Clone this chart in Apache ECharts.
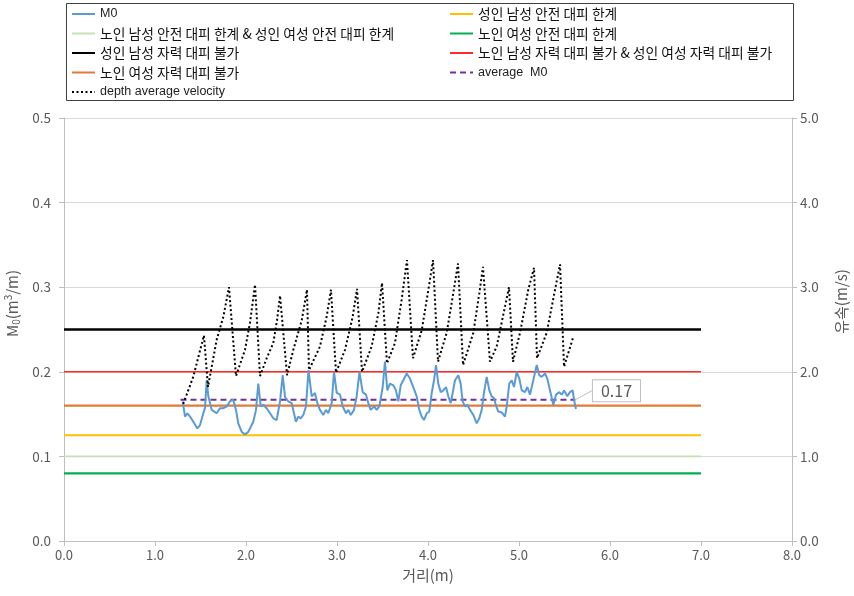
<!DOCTYPE html>
<html><head><meta charset="utf-8">
<script src="https://cdn.jsdelivr.net/npm/echarts@6/dist/echarts.min.js"></script>
<style>html,body{margin:0;padding:0;background:#fff}#c{width:854px;height:596px}</style>
</head><body><div id="c"></div>
<script>
// M0 series: distance (m) and M0 (m3/m)
const m0X = [1.304,1.330,1.355,1.385,1.421,1.465,1.495,1.531,1.549,1.568,1.586,1.623,1.678,1.714,1.751,1.788,1.824,1.860,1.890,1.915,1.953,1.989,2.025,2.080,2.110,2.135,2.162,2.190,2.227,2.264,2.300,2.337,2.374,2.403,2.429,2.465,2.502,2.527,2.549,2.575,2.601,2.630,2.659,2.687,2.722,2.758,2.784,2.813,2.849,2.879,2.904,2.942,2.967,2.997,3.033,3.063,3.099,3.124,3.151,3.187,3.216,3.247,3.282,3.319,3.344,3.370,3.407,3.436,3.465,3.502,3.527,3.553,3.582,3.619,3.648,3.674,3.700,3.729,3.766,3.802,3.838,3.876,3.904,3.931,3.956,3.986,4.014,4.041,4.066,4.088,4.113,4.140,4.168,4.198,4.223,4.249,4.271,4.297,4.333,4.359,4.381,4.407,4.432,4.462,4.498,4.535,4.564,4.590,4.615,4.645,4.674,4.700,4.725,4.747,4.773,4.810,4.846,4.865,4.893,4.920,4.945,4.975,5.003,5.030,5.066,5.091,5.121,5.157,5.195,5.223,5.249,5.286,5.311,5.341,5.377,5.407,5.443,5.469,5.495,5.531,5.560,5.590,5.604,5.626];
const m0Y = [0.165,0.147,0.151,0.147,0.141,0.133,0.137,0.151,0.157,0.190,0.171,0.155,0.151,0.157,0.157,0.159,0.165,0.167,0.155,0.139,0.129,0.126,0.129,0.141,0.155,0.186,0.159,0.161,0.157,0.151,0.145,0.143,0.165,0.196,0.170,0.165,0.163,0.151,0.141,0.147,0.145,0.149,0.159,0.202,0.171,0.175,0.163,0.155,0.149,0.155,0.151,0.163,0.200,0.175,0.173,0.159,0.151,0.155,0.149,0.155,0.171,0.200,0.176,0.173,0.163,0.155,0.159,0.155,0.159,0.182,0.212,0.178,0.186,0.184,0.178,0.165,0.184,0.190,0.198,0.192,0.182,0.171,0.155,0.147,0.143,0.151,0.153,0.175,0.190,0.208,0.186,0.176,0.178,0.182,0.171,0.163,0.175,0.190,0.196,0.186,0.165,0.159,0.161,0.155,0.149,0.139,0.145,0.155,0.175,0.194,0.178,0.171,0.169,0.160,0.153,0.152,0.147,0.159,0.186,0.190,0.182,0.200,0.192,0.178,0.176,0.182,0.173,0.190,0.208,0.196,0.194,0.198,0.192,0.178,0.161,0.173,0.176,0.173,0.178,0.171,0.176,0.178,0.167,0.156];
// depth average velocity: distance (m) and velocity (m/s)
const velX = [1.31,1.42,1.538,1.582,1.678,1.751,1.813,1.890,1.989,2.044,2.099,2.154,2.227,2.300,2.341,2.374,2.451,2.520,2.613,2.670,2.692,2.813,2.886,2.934,2.989,3.088,3.172,3.220,3.275,3.381,3.454,3.495,3.549,3.637,3.710,3.769,3.835,3.931,4.004,4.055,4.110,4.205,4.278,4.330,4.385,4.498,4.564,4.604,4.681,4.755,4.846,4.890,4.934,5.011,5.102,5.165,5.198,5.304,5.396,5.451,5.495,5.593];
const velY = [1.62,1.94,2.43,1.82,2.38,2.65,3.00,1.95,2.26,2.58,3.03,1.95,2.16,2.34,2.61,2.90,1.96,2.26,2.61,2.97,2.02,2.30,2.65,2.97,1.99,2.26,2.65,2.98,2.00,2.30,2.69,3.05,2.10,2.34,2.85,3.32,2.16,2.49,2.97,3.32,2.12,2.46,2.93,3.28,2.08,2.46,2.93,3.24,2.12,2.30,2.77,3.00,2.12,2.46,2.97,3.23,2.16,2.46,2.97,3.27,2.06,2.40];
// threshold lines (M0), drawn from 0 to 7 m
const thresholdNames = ['성인 남성 안전 대피 한계','노인 남성 안전 대피 한계 & 성인 여성 안전 대피 한계','노인 여성 안전 대피 한계','성인 남성 자력 대피 불가','노인 남성 자력 대피 불가 & 성인 여성 자력 대피 불가','노인 여성 자력 대피 불가'];
const thresholdValues = [0.125, 0.10, 0.08, 0.25, 0.20, 0.16];
const thresholdRange = [0, 7];
// average M0
const avgM0 = 0.167;
const avgRange = [1.28, 5.62];
// axis ticks
const xTicks = [0,1,2,3,4,5,6,7,8];
const yLeftTicks = [0,0.1,0.2,0.3,0.4,0.5];
const yRightTicks = [0,1,2,3,4,5];

const thresholdColors = ['#FFC000','#C5E0B4','#00B050','#000000','#FF2A2A','#E07B39'];
const thresholdWidths = [2.2,1.6,2.2,2.5,1.6,2.2];

const FONT = '"Noto Sans CJK KR", "Noto Sans", sans-serif';
const chart = echarts.init(document.getElementById('c'), null, {renderer:'canvas'});

const series = [];
series.push({
  name:'M0', type:'line', data:m0X.map((x,i)=>[x,m0Y[i]]), symbol:'none',
  lineStyle:{color:'#5B9BD5', width:2}, itemStyle:{color:'#5B9BD5'}, z:5
});
thresholdNames.forEach((n,i)=>{
  series.push({
    name:n, type:'line', symbol:'none',
    data:[[thresholdRange[0],thresholdValues[i]],[thresholdRange[1],thresholdValues[i]]],
    lineStyle:{color:thresholdColors[i], width:thresholdWidths[i]}, itemStyle:{color:thresholdColors[i]}, z:3
  });
});
series.push({
  name:'average  M0', type:'line', symbol:'circle', symbolSize:1, showSymbol:true,
  data:[{value:[avgRange[0],avgM0]},{value:[avgRange[1],avgM0], label:{show:true}}],
  lineStyle:{color:'#7030A0', width:2, type:[6,4]}, itemStyle:{color:'rgba(0,0,0,0)', borderWidth:0}, z:4,
  label:{show:false, position:'right', formatter:(p)=>p.value[1].toFixed(2), fontFamily:FONT, fontSize:16, color:'#595959',
    backgroundColor:'#fff', borderColor:'#BFBFBF', borderWidth:1, padding:[3,8,2,8]},
  labelLayout:{dx:12, dy:-9},
  labelLine:{show:true, lineStyle:{color:'#BFBFBF', width:1}}
});
series.push({
  name:'depth average velocity', type:'line', symbol:'none', yAxisIndex:1,
  data:velX.map((x,i)=>[x,velY[i]]),
  lineStyle:{color:'#000', width:2, type:[2,2.5]}, itemStyle:{color:'#000'}, z:6
});

const legendText = {fontFamily:FONT, fontSize:13.8, lineHeight:14, color:'#111'};
const engText = {fontFamily:'"Liberation Sans", sans-serif', fontSize:12.5, lineHeight:14, color:'#222'};
function li(name, eng){ return eng ? {name, textStyle:engText, itemStyle:{opacity:0}} : {name, itemStyle:{opacity:0}}; }

const option = {
  animation:false,
  textStyle:{fontFamily:FONT},
  grid:{left:64, right:62, top:118, bottom:55, outerBoundsMode:'none'},
  legend:[
    {orient:'vertical', left:66, top:2, itemWidth:23, itemHeight:12, itemGap:5.5, textStyle:legendText, itemStyle:{opacity:0},
     data:[li('M0',true), li(thresholdNames[1]), li(thresholdNames[3]), li(thresholdNames[5]), li('depth average velocity',true)]},
    {orient:'vertical', left:444, top:2, itemWidth:23, itemHeight:12, itemGap:5.5, textStyle:legendText, itemStyle:{opacity:0},
     data:[li(thresholdNames[0]), li(thresholdNames[2]), li(thresholdNames[4]), li('average  M0',true)]}
  ],
  graphic:[{type:'rect', shape:{x:66.5, y:3.5, width:727, height:97}, style:{fill:'none', stroke:'#404040', lineWidth:1}, silent:true}],
  xAxis:{type:'value', min:xTicks[0], max:xTicks[xTicks.length-1], interval:1,
    name:'거리(m)', nameLocation:'middle', nameGap:27, nameTextStyle:{fontSize:15, color:'#595959', fontFamily:FONT},
    axisLine:{lineStyle:{color:'#BFBFBF'}}, axisTick:{show:true, length:5, lineStyle:{color:'#BFBFBF'}},
    axisLabel:{formatter:v=>v.toFixed(1), color:'#595959', fontSize:13, margin:8, fontFamily:FONT},
    splitLine:{show:false}},
  yAxis:[
    {type:'value', min:yLeftTicks[0], max:yLeftTicks[yLeftTicks.length-1], interval:0.1,
     name:'{n|M}{s|0}{n|(m}{p|3}{n|/m)}', nameLocation:'middle', nameGap:38, nameRotate:90,
     nameTextStyle:{padding:[0,0,0,52], rich:{n:{fontSize:15,color:'#595959',fontFamily:FONT}, s:{fontSize:10,color:'#595959',verticalAlign:'bottom',padding:[8,0,0,0],fontFamily:FONT}, p:{fontSize:10,color:'#595959',verticalAlign:'top',padding:[0,0,8,0],fontFamily:FONT}}},
     axisLine:{show:true, lineStyle:{color:'#BFBFBF'}}, axisTick:{show:true, length:5, lineStyle:{color:'#BFBFBF'}},
     axisLabel:{formatter:v=>v.toFixed(1), color:'#595959', fontSize:13.5, margin:13, fontFamily:FONT},
     splitLine:{show:true, lineStyle:{color:'#D9D9D9'}}},
    {type:'value', min:yRightTicks[0], max:yRightTicks[yRightTicks.length-1], interval:1, position:'right',
     name:'유속(m/s)', nameLocation:'middle', nameGap:42, nameRotate:90,
     nameTextStyle:{fontSize:15, color:'#595959', fontFamily:FONT, padding:[0,0,0,56]},
     axisLine:{show:true, lineStyle:{color:'#BFBFBF'}}, axisTick:{show:true, length:5, lineStyle:{color:'#BFBFBF'}},
     axisLabel:{formatter:v=>v.toFixed(1), color:'#595959', fontSize:13.5, margin:8, fontFamily:FONT},
     splitLine:{show:false}}
  ],
  series
};
chart.setOption(option);
</script></body></html>
